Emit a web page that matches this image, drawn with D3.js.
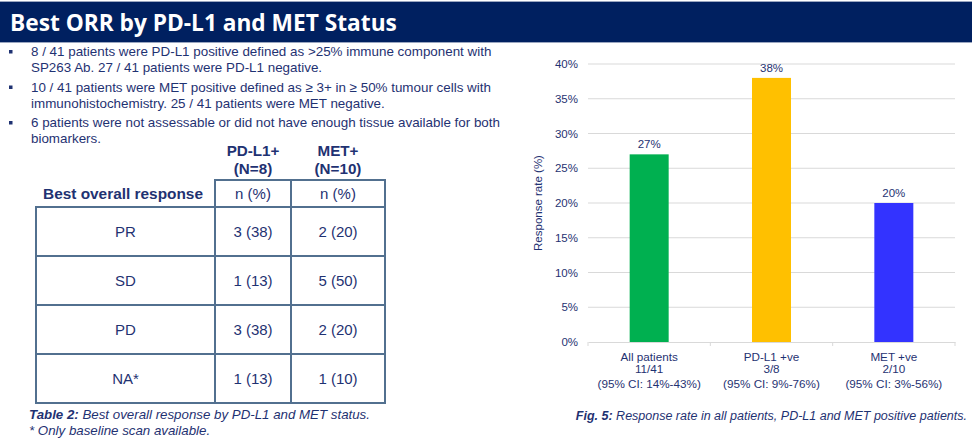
<!DOCTYPE html>
<html>
<head>
<meta charset="utf-8">
<script src="https://cdn.jsdelivr.net/npm/d3@7"></script>
<style>
  html, body { margin: 0; padding: 0; background: #fff; }
  svg { display: block; font-family: "Liberation Sans", Arial, sans-serif; }
</style>
</head>
<body>
<div id="chart"></div>
<script>
// --- data ---
const title = 'Best ORR by PD-L1 and MET Status';
const bullets = [
  ['8 / 41 patients were PD-L1 positive defined as >25% immune component with', 'SP263 Ab. 27 / 41 patients were PD-L1 negative.'],
  ['10 / 41 patients were MET positive defined as \u2265 3+ in \u2265 50% tumour cells with', 'immunohistochemistry. 25 / 41 patients were MET negative.'],
  ['6 patients were not assessable or did not have enough tissue available for both', 'biomarkers.']
];
const tableCols = ['PD-L1+', 'MET+'];
const tableNs = ['(N=8)', '(N=10)'];
const rowLabels = ['PR', 'SD', 'PD', 'NA*'];
const pdl1Values = ['3 (38)', '1 (13)', '3 (38)', '1 (13)'];
const metValues = ['2 (20)', '5 (50)', '2 (20)', '1 (10)'];

const categories = ['All patients', 'PD-L1 +ve', 'MET +ve'];
const ratios = ['11/41', '3/8', '2/10'];
const cis = ['(95% CI: 14%-43%)', '(95% CI: 9%-76%)', '(95% CI: 3%-56%)'];
const rates = [27, 38, 20];
const barColors = ['#00b050', '#ffc000', '#3333ff'];
const yTicks = [0, 5, 10, 15, 20, 25, 30, 35, 40];

const W = 972, H = 439;
const navy = '#002060';
const ink = '#1f3272';
const border = '#52708f';

const svg = d3.select('#chart').append('svg')
  .attr('width', W).attr('height', H)
  .attr('viewBox', [0, 0, W, H]);

// title bar
svg.append('rect').attr('x', 0).attr('y', 1).attr('width', W).attr('height', 42).attr('fill', '#9aa6c0');
svg.append('rect').attr('x', 0).attr('y', 2).attr('width', W).attr('height', 40).attr('fill', navy);
svg.append('text')
  .attr('x', 10).attr('y', 31)
  .attr('fill', '#fff')
  .attr('font-family', '"Open Sans", "Noto Sans", sans-serif')
  .attr('font-weight', 700)
  .attr('font-size', 22.7)
  .text(title);

// bullets
const bulletG = svg.append('g').attr('fill', ink).attr('font-size', 13.4);
let by = 56;
bullets.forEach(lines => {
  bulletG.append('rect').attr('x', 9).attr('y', by - 6).attr('width', 3.5).attr('height', 3.5);
  lines.forEach((ln, i) => {
    bulletG.append('text').attr('x', 31).attr('y', by + i * 16).text(ln);
  });
  by += lines.length * 16 + 3.5;
});

// --- table ---
const colX = [36, 215, 291, 385];
const tableTop = 207, tableBottom = 403;
const rowY = d3.scaleBand().domain(rowLabels).range([tableTop, tableBottom]);
const tg = svg.append('g').attr('fill', ink).attr('text-anchor', 'middle').attr('font-size', 15);

tableCols.forEach((c, i) => {
  const cx = (colX[i + 1] + colX[i + 2]) / 2;
  tg.append('text').attr('x', cx).attr('y', 156).attr('font-weight', 700).attr('font-size', 15.2).text(c);
  tg.append('text').attr('x', cx).attr('y', 174).attr('font-weight', 700).attr('font-size', 15.2).text(tableNs[i]);
  tg.append('text').attr('x', cx).attr('y', 199).text('n (%)');
});
tg.append('text').attr('x', 123).attr('y', 199).attr('font-weight', 700).attr('font-size', 15.4).text('Best overall response');

rowLabels.forEach((r, i) => {
  const cy = rowY(r) + rowY.bandwidth() / 2 + 5;
  tg.append('text').attr('x', (colX[0] + colX[1]) / 2).attr('y', cy).text(r);
  tg.append('text').attr('x', (colX[1] + colX[2]) / 2).attr('y', cy).text(pdl1Values[i]);
  tg.append('text').attr('x', (colX[2] + colX[3]) / 2).attr('y', cy).text(metValues[i]);
});

const lines = svg.append('g').attr('stroke', border).attr('stroke-width', 2).attr('fill', 'none');
// header cells n (%)
lines.append('path').attr('d', `M${colX[1]},${tableTop} V180 H${colX[3]} V${tableTop}`);
lines.append('line').attr('x1', colX[2]).attr('x2', colX[2]).attr('y1', 180).attr('y2', tableTop);
// body
lines.append('rect').attr('x', colX[0]).attr('y', tableTop).attr('width', colX[3] - colX[0]).attr('height', tableBottom - tableTop);
[colX[1], colX[2]].forEach(x => lines.append('line').attr('x1', x).attr('x2', x).attr('y1', tableTop).attr('y2', tableBottom));
rowLabels.slice(1).forEach(r => lines.append('line').attr('x1', colX[0]).attr('x2', colX[3]).attr('y1', rowY(r)).attr('y2', rowY(r)));

const cap = svg.append('g').attr('fill', ink).attr('font-size', 13.3).attr('font-style', 'italic');
const c1 = cap.append('text').attr('x', 29).attr('y', 419);
c1.append('tspan').attr('font-weight', 700).text('Table 2:');
c1.append('tspan').text(' Best overall response by PD-L1 and MET status.');
cap.append('text').attr('x', 29).attr('y', 435).text('* Only baseline scan available.');

// --- bar chart ---
const x = d3.scaleBand().domain(categories).range([588, 955]).paddingInner(0).paddingOuter(0);
const y = d3.scaleLinear().domain([0, 40]).range([342, 64]);
const barW = 39;

const grid = svg.append('g');
grid.selectAll('line').data(yTicks.filter(t => t > 0)).join('line')
  .attr('x1', 588).attr('x2', 955)
  .attr('y1', d => y(d)).attr('y2', d => y(d))
  .attr('stroke', '#d9d9d9').attr('stroke-width', 1);

const yAxis = svg.append('g').attr('transform', 'translate(588,0)')
  .call(d3.axisLeft(y).tickValues(yTicks).tickSize(0).tickPadding(10).tickFormat(d => d + '%'));
yAxis.select('.domain').remove();
yAxis.selectAll('text').attr('fill', ink).attr('font-size', 11.5).attr('font-family', '"Liberation Sans", Arial, sans-serif');

svg.append('g').selectAll('rect').data(rates).join('rect')
  .attr('x', (d, i) => x(categories[i]) + x.bandwidth() / 2 - barW / 2)
  .attr('y', d => y(d))
  .attr('width', barW)
  .attr('height', d => y(0) - y(d))
  .attr('fill', (d, i) => barColors[i]);

svg.append('g').selectAll('text').data(rates).join('text')
  .attr('x', (d, i) => x(categories[i]) + x.bandwidth() / 2)
  .attr('y', d => y(d) - 6)
  .attr('text-anchor', 'middle').attr('fill', ink).attr('font-size', 11.5)
  .text(d => d + '%');

const xAxis = svg.append('g').attr('transform', `translate(0,${y(0)})`)
  .call(d3.axisBottom(x).tickSize(0).tickFormat(''));
xAxis.select('.domain').attr('stroke', '#d9d9d9');
xAxis.selectAll('.tick').remove();
const bounds = [588].concat(categories.map(c => x(c) + x.bandwidth()));
xAxis.selectAll('line.sep').data(bounds).join('line').attr('class', 'sep')
  .attr('x1', d => d).attr('x2', d => d).attr('y1', 0).attr('y2', 4)
  .attr('stroke', '#d9d9d9');

const catG = svg.append('g').attr('fill', ink).attr('font-size', 11.7).attr('text-anchor', 'middle');
categories.forEach((c, i) => {
  const cx = x(c) + x.bandwidth() / 2;
  catG.append('text').attr('x', cx).attr('y', 361).text(c);
  catG.append('text').attr('x', cx).attr('y', 373).text(ratios[i]);
  catG.append('text').attr('x', cx).attr('y', 388).text(cis[i]);
});

svg.append('text')
  .attr('transform', 'translate(542,203) rotate(-90)')
  .attr('text-anchor', 'middle').attr('fill', ink).attr('font-size', 11.5)
  .text('Response rate (%)');

const fig = svg.append('text').attr('x', 967).attr('y', 420)
  .attr('text-anchor', 'end').attr('fill', ink).attr('font-size', 12.5).attr('font-style', 'italic');
fig.append('tspan').attr('font-weight', 700).text('Fig. 5:');
fig.append('tspan').text(' Response rate in all patients, PD-L1 and MET positive patients.');
</script>
</body>
</html>
